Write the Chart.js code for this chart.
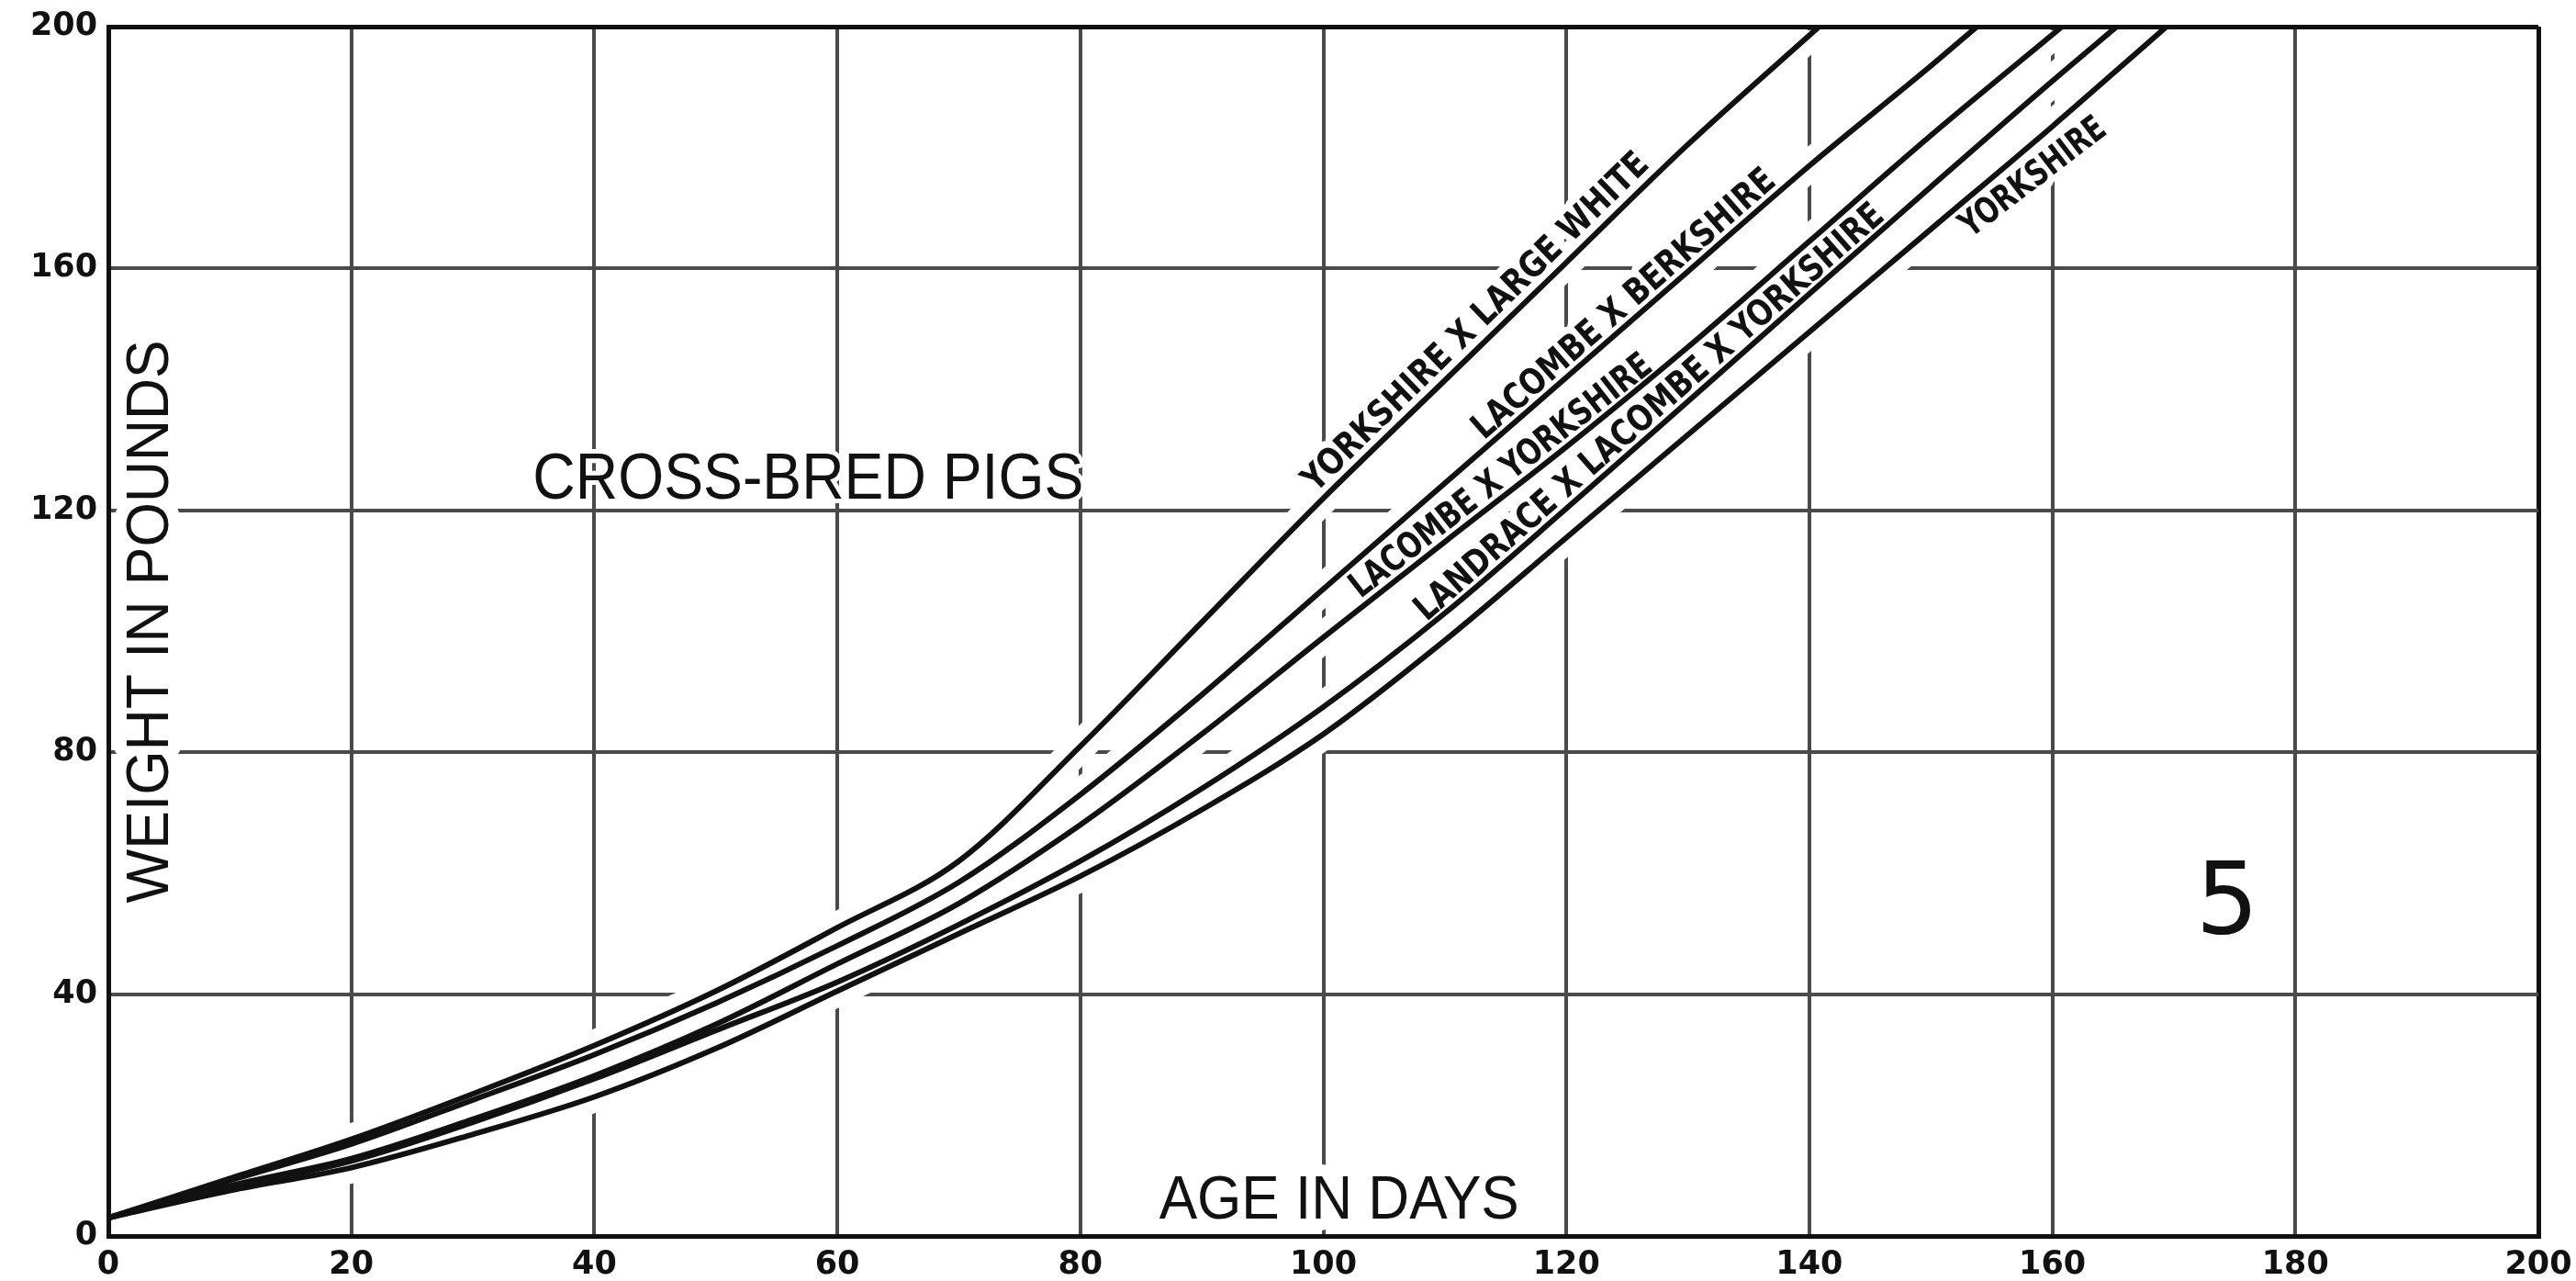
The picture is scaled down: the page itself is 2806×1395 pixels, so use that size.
<!DOCTYPE html>
<html>
<head>
<meta charset="utf-8">
<title>Cross-bred pigs</title>
<script src="https://cdn.jsdelivr.net/npm/chart.js@4.4.1/dist/chart.umd.min.js"></script>
<style>
    html, body { margin: 0; padding: 0; background: #fff; }
    #wrap { width: 2806px; height: 1395px; }
</style>
</head>
<body>
<div id="wrap"><canvas id="growthChart" width="2806" height="1395"></canvas></div>
<script>
// ages (days) and weights (pounds); null = curve already off the top
const ageDays = [0, 10, 20, 30, 40, 50, 60, 70, 80, 90, 100, 110, 120, 130, 140, 150, 160];

const yorkshireLargeWhite = [3, 9.5, 16, 23.5, 31.5, 40.5, 51, 62, 81, 101.5, 122, 141.5, 161, 180.5, null, null, null];
const lacombeBerkshire = [3, 9.2, 15.2, 22.5, 30, 38.5, 48, 58.5, 73, 89.5, 107, 124.5, 142, 159.5, 177, 193.5, null];
const lacombeYorkshire = [3, 8.3, 12.8, 19.3, 26.5, 35, 45, 55, 68, 83, 99, 114.8, 130.5, 147, 164.5, 182, null];
const landraceLacombeYorkshire = [3, 8, 12.4, 18.8, 26, 34, 42, 51.5, 62, 74, 87.5, 103, 120.3, 138, 155.8, 173.5, 191];
const yorkshire = [3, 7.5, 11.3, 16.8, 23, 31, 40.5, 50, 59.5, 70.5, 83, 98.5, 115.5, 132.5, 149.5, 166.5, 183.5];

// age at which each curve reaches the 200 lb top line
const topAges = [140.8, 153.8, 160.8, 165.3, 169.4];

const seriesNames = [
    'YORKSHIRE X LARGE WHITE',
    'LACOMBE X BERKSHIRE',
    'LACOMBE X YORKSHIRE',
    'LANDRACE X LACOMBE X YORKSHIRE',
    'YORKSHIRE'
];
const seriesValues = [yorkshireLargeWhite, lacombeBerkshire, lacombeYorkshire, landraceLacombeYorkshire, yorkshire];

const xTickValues = [0, 20, 40, 60, 80, 100, 120, 140, 160, 180, 200];
const yTickValues = [0, 40, 80, 120, 160, 200];

// where the hand lettering sits, in chart units (day, pounds)
const curveLabelSpots = [
    { at: [112.4, 151.4], angle: 44.3, length: 510 },
    { at: [124.6, 154.4], angle: 41.2, length: 425 },
    { at: [114.5, 126.0], angle: 38.0, length: 406 },
    { at: [126.7, 136.5], angle: 41.3, length: 666 },
    { at: [158.3, 175.4], angle: 37.4, length: 189 }
];

const captions = [
    { text: 'WEIGHT IN POUNDS', at: [3.2, 101.6], angle: 90, length: 613, size: 64, font: '"Liberation Sans"', weight: 400, halo: 28 },
    { text: 'CROSS-BRED PIGS', at: [57.6, 125.7], angle: 0, length: 600, size: 70, font: '"Liberation Sans"', weight: 400, halo: 10 },
    { text: 'AGE IN DAYS', at: [101.3, 6.5], angle: 0, length: 392, size: 67, font: '"Liberation Sans"', weight: 400, halo: 26 },
    { text: '5', at: [174.4, 56.0], angle: 0, length: 0, size: 108, font: '"DejaVu Sans"', weight: 400, halo: 0 }
];

function buildPoints(values, topAge) {
    const pts = [];
    values.forEach((v, i) => {
        if (v !== null) pts.push({ x: ageDays[i], y: v });
    });
    pts.push({ x: topAge, y: 200 });
    return pts;
}

function drawText(ctx, spec, x, y, haloPass) {
    ctx.save();
    ctx.translate(x, y);
    ctx.rotate(-spec.angle * Math.PI / 180);
    ctx.font = spec.weight + ' ' + spec.size + 'px ' + spec.font;
    ctx.textAlign = 'center';
    ctx.textBaseline = 'alphabetic';
    const natural = ctx.measureText(spec.text).width;
    if (spec.length) ctx.scale(spec.length / natural, 1);
    const base = spec.size * 0.36;
    if (haloPass) {
        if (spec.halo) {
            ctx.strokeStyle = '#fff';
            ctx.lineWidth = spec.halo;
            ctx.lineJoin = 'round';
            ctx.strokeText(spec.text, 0, base);
        }
    } else {
        ctx.fillStyle = '#111';
        ctx.fillText(spec.text, 0, base);
    }
    ctx.restore();
}

function allTexts() {
    const list = captions.slice();
    seriesNames.forEach((name, i) => {
        const s = curveLabelSpots[i];
        list.push({ text: name, at: s.at, angle: s.angle, length: s.length, size: 39, font: '"DejaVu Sans"', weight: 700, halo: 16 });
    });
    return list;
}

const letteringPlugin = {
    id: 'lettering',
    beforeDatasetsDraw(chart) {
        const ctx = chart.ctx;
        allTexts().forEach(t => {
            drawText(ctx, t, chart.scales.x.getPixelForValue(t.at[0]), chart.scales.y.getPixelForValue(t.at[1]), true);
        });
    },
    afterDatasetsDraw(chart) {
        const ctx = chart.ctx;
        allTexts().forEach(t => {
            drawText(ctx, t, chart.scales.x.getPixelForValue(t.at[0]), chart.scales.y.getPixelForValue(t.at[1]), false);
        });
    }
};

const datasets = [];
seriesValues.forEach((values, i) => {
    const pts = buildPoints(values, topAges[i]);
    // white gap around each curve, like the drafted grid breaks
    datasets.push({
        label: seriesNames[i] + ' gap',
        data: pts,
        borderColor: '#fff',
        borderWidth: 34,
        pointRadius: 0,
        cubicInterpolationMode: 'monotone',
        clip: -4,
        order: 2
    });
    datasets.push({
        label: seriesNames[i],
        data: pts,
        borderColor: '#111',
        borderWidth: 6,
        pointRadius: 0,
        cubicInterpolationMode: 'monotone',
        order: 1
    });
});

const tickFont = { family: '"DejaVu Sans"', size: 35, weight: 'bold' };

function gridWidth(ctx) {
    const v = ctx.tick ? ctx.tick.value : null;
    return (v === 0 || v === 200) ? 5 : 4;
}
function gridColor(ctx) {
    const v = ctx.tick ? ctx.tick.value : null;
    return (v === 0 || v === 200) ? '#111' : '#4a4a4a';
}

new Chart(document.getElementById('growthChart'), {
    type: 'line',
    data: { datasets: datasets },
    plugins: [letteringPlugin],
    options: {
        responsive: false,
        animation: false,
        layout: { padding: { top: 29, right: 41, left: 0, bottom: 0 } },
        plugins: {
            legend: { display: false },
            tooltip: { enabled: false }
        },
        scales: {
            x: {
                type: 'linear',
                min: 0,
                max: 200,
                afterBuildTicks: s => { s.ticks = xTickValues.map(v => ({ value: v })); },
                afterFit: s => { s.height = 49; s.paddingLeft = 0; s.paddingRight = 0; },
                ticks: { font: tickFont, color: '#111', padding: 11, maxRotation: 0, autoSkip: false },
                grid: { color: gridColor, lineWidth: gridWidth, drawTicks: false },
                border: { display: true, color: '#111', width: 5 }
            },
            y: {
                type: 'linear',
                min: 0,
                max: 200,
                afterBuildTicks: s => { s.ticks = yTickValues.map(v => ({ value: v })); },
                afterFit: s => { s.width = 118; s.paddingTop = 0; s.paddingBottom = 0; },
                ticks: { font: tickFont, color: '#111', padding: 12, autoSkip: false },
                grid: { color: gridColor, lineWidth: gridWidth, drawTicks: false },
                border: { display: true, color: '#111', width: 5 }
            }
        }
    }
});
</script>
</body>
</html>
